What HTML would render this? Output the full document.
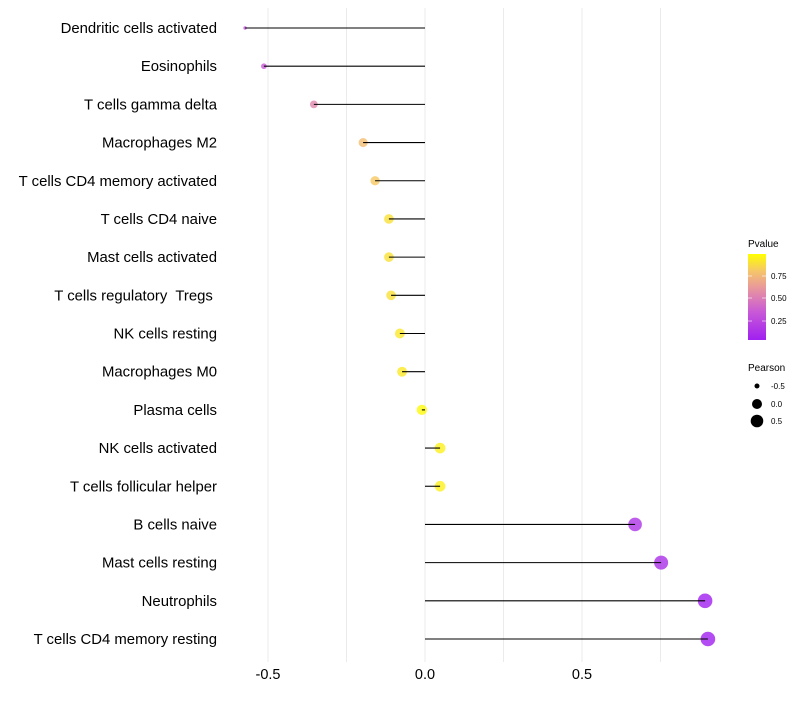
<!DOCTYPE html>
<html><head><meta charset="utf-8"><style>
body{margin:0;background:#fff;}
svg text{font-family:"Liberation Sans",Arial,sans-serif;white-space:pre;}
</style></head><body>
<svg id="chart" width="800" height="700" xmlns="http://www.w3.org/2000/svg">
<defs>
<linearGradient id="pgrad" x1="0" y1="1" x2="0" y2="0">
<stop offset="0" stop-color="#A020F0"/>
<stop offset="0.33" stop-color="#C95AD6"/>
<stop offset="0.6" stop-color="#E8969E"/>
<stop offset="0.8" stop-color="#F5C56A"/>
<stop offset="1" stop-color="#FFFF00"/>
</linearGradient>
</defs>
<g id="grid"></g><g id="marks"></g><g id="labels"></g>
<g>
<text x="748" y="247" font-size="10" fill="#000">Pvalue</text>
<rect x="748" y="254" width="18" height="86" fill="url(#pgrad)"/>
<line x1="748" x2="752" y1="276" y2="276" stroke="#fff" stroke-opacity="0.6"/><line x1="762" x2="766" y1="276" y2="276" stroke="#fff" stroke-opacity="0.6"/>
<line x1="748" x2="752" y1="298" y2="298" stroke="#fff" stroke-opacity="0.6"/><line x1="762" x2="766" y1="298" y2="298" stroke="#fff" stroke-opacity="0.6"/>
<line x1="748" x2="752" y1="321" y2="321" stroke="#fff" stroke-opacity="0.6"/><line x1="762" x2="766" y1="321" y2="321" stroke="#fff" stroke-opacity="0.6"/>
<text x="771" y="279" font-size="8">0.75</text>
<text x="771" y="301" font-size="8">0.50</text>
<text x="771" y="324" font-size="8">0.25</text>
</g>
<g>
<text x="748" y="371" font-size="10">Pearson</text>
<circle cx="757" cy="386" r="2.5" fill="#000"/><text x="771" y="389" font-size="8">-0.5</text>
<circle cx="757" cy="404" r="5" fill="#000"/><text x="771" y="407" font-size="8">0.0</text>
<circle cx="757" cy="421" r="6.3" fill="#000"/><text x="771" y="424" font-size="8">0.5</text>
</g>
</svg>
<script>
const categories=["Dendritic cells activated","Eosinophils","T cells gamma delta","Macrophages M2","T cells CD4 memory activated","T cells CD4 naive","Mast cells activated","T cells regulatory  Tregs ","NK cells resting","Macrophages M0","Plasma cells","NK cells activated","T cells follicular helper","B cells naive","Mast cells resting","Neutrophils","T cells CD4 memory resting"];
const pearson=[-0.573,-0.513,-0.354,-0.197,-0.159,-0.115,-0.115,-0.108,-0.080,-0.073,-0.010,0.048,0.048,0.669,0.752,0.892,0.901];
const pvalues=[0.30,0.35,0.55,0.78,0.82,0.90,0.90,0.90,0.92,0.93,0.98,0.95,0.95,0.15,0.12,0.04,0.04];
const xTicks=[-0.5,0,0.5];
const xTickLabels=["-0.5","0.0","0.5"];
const gridVals=[-0.5,-0.25,0,0.25,0.5,0.75];

const NS="http://www.w3.org/2000/svg";
const xs=v=>425+v*314;
const ys=i=>28+i*(639-28)/16;
const pmin=0.04,pmax=1.0;
const stops=[[0,[160,32,240]],[0.33,[201,90,214]],[0.6,[232,150,158]],[0.8,[245,197,106]],[1,[255,255,0]]];
function col(p){let t=(p-pmin)/(pmax-pmin);t=Math.max(0,Math.min(1,t));
for(let k=1;k<stops.length;k++){if(t<=stops[k][0]){const a=stops[k-1],b=stops[k];const f=(t-a[0])/(b[0]-a[0]);
return "rgb("+a[1].map((c,j)=>Math.round(c+(b[1][j]-c)*f)).join(",")+")";}}return "rgb(255,255,0)";}
const vmin=Math.min(...pearson),vmax=Math.max(...pearson);
const rad=v=>1.7+5.6*Math.sqrt((v-vmin)/(vmax-vmin));
function mk(tag,attrs,parent){const e=document.createElementNS(NS,tag);for(const k in attrs)e.setAttribute(k,attrs[k]);parent.appendChild(e);return e;}
const grid=document.getElementById('grid'),marks=document.getElementById('marks'),labels=document.getElementById('labels');
gridVals.forEach(v=>{const l=mk('line',{x1:xs(v),x2:xs(v),y1:8,y2:662,stroke:'#ebebeb','stroke-width':1},grid);

});
xTicks.forEach((v,i)=>{const t=mk('text',{x:xs(v),y:679,'font-size':14.5,'text-anchor':'middle',fill:'#000'},labels);t.textContent=xTickLabels[i];

});
categories.forEach((c,i)=>{const y=ys(i),v=pearson[i];
const pt=mk('circle',{cx:xs(v),cy:y,r:rad(v),fill:col(pvalues[i]),'fill-opacity':0.8},marks);


const seg=mk('line',{x1:xs(0),x2:xs(v),y1:y,y2:y,stroke:'#000','stroke-width':1.1},marks);


const t=mk('text',{x:217,y:y+5,'font-size':14.9,'text-anchor':'end',fill:'#000'},labels);t.textContent=c;

});
</script>
</body></html>
